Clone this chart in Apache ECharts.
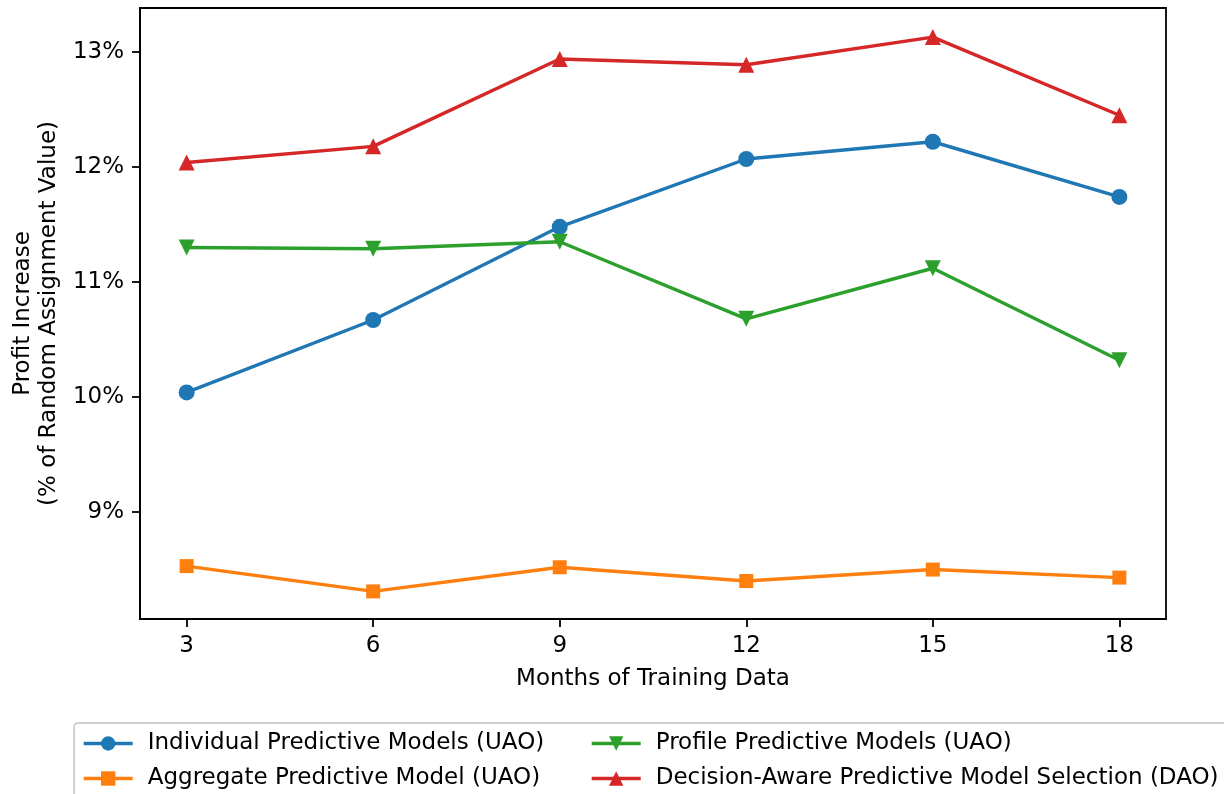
<!DOCTYPE html>
<html>
<head>
<meta charset="utf-8">
<script src="https://cdn.jsdelivr.net/npm/echarts@6/dist/echarts.min.js"></script>
<style>
html,body{margin:0;padding:0;background:#fff;}
#chart{width:1224px;height:794px;}
</style>
</head>
<body>
<div id="chart"></div>
<script>
const months = [3, 6, 9, 12, 15, 18];
const individual = [10.04, 10.67, 11.48, 12.07, 12.22, 11.74];
const aggregate = [8.53, 8.31, 8.52, 8.40, 8.50, 8.43];
const profile = [11.30, 11.29, 11.35, 10.68, 11.12, 10.32];
const decisionAware = [12.04, 12.18, 12.94, 12.89, 13.13, 12.45];
const yTicks = [9, 10, 11, 12, 13];
const xTicks = [3, 6, 9, 12, 15, 18];
const names = [
  'Individual Predictive Models (UAO)',
  'Aggregate Predictive Model (UAO)',
  'Profile Predictive Models (UAO)',
  'Decision-Aware Predictive Model Selection (DAO)'
];
const colors = ['#1f77b4', '#ff7f0e', '#2ca02c', '#d62728'];
const FONT = 'DejaVu Sans';
const FS = 23;

function pairs(arr) { return months.map((m, i) => [m, arr[i]]); }

const triDown = 'path://M0,0 L2,0 L1,2 Z';
const triUp = 'path://M1,0 L2,2 L0,2 Z';

function mkSeries(name, data, color, symbol, size) {
  return {
    name: name, type: 'line', data: pairs(data),
    symbol: symbol, symbolSize: size, showAllSymbol: true,
    lineStyle: { color: color, width: 3.4 },
    itemStyle: { color: color, borderWidth: 0 },
    emphasis: { disabled: true },
    z: 3
  };
}

const chart = echarts.init(document.getElementById('chart'));
const legendText = { fontFamily: FONT, fontSize: FS, color: '#000', lineHeight: 23, padding: [0, 0, 0, 10] };
const legendCommon = {
  orient: 'vertical', top: 727, height: 90, itemWidth: 49, itemHeight: 18, itemGap: 12,
  textStyle: legendText, selectedMode: false,
  lineStyle: { width: 3.4 }
};
chart.setOption({
  animation: false,
  backgroundColor: '#fff',
  grid: { left: 140, right: 58, top: 8, bottom: 175, show: true, borderColor: '#000', borderWidth: 1.8, outerBoundsMode: 'none' },
  xAxis: {
    type: 'value', min: 2.25, max: 18.75,
    name: 'Months of Training Data', nameLocation: 'middle', nameGap: 49,
    nameTextStyle: { fontFamily: FONT, fontSize: FS, color: '#000' },
    axisLine: { show: true, lineStyle: { color: '#000', width: 1.8 } },
    axisTick: { show: true, length: 8, lineStyle: { color: '#000', width: 1.8 }, customValues: xTicks },
    axisLabel: { fontFamily: FONT, fontSize: FS, color: '#000', margin: 16, customValues: xTicks },
    splitLine: { show: false }
  },
  yAxis: {
    type: 'value', min: 8.07, max: 13.383,
    name: 'Profit Increase\n(% of Random Assignment Value)', nameLocation: 'middle', nameGap: 78,
    nameTextStyle: { fontFamily: FONT, fontSize: FS, color: '#000', lineHeight: 26, align: 'center' },
    axisLine: { show: true, lineStyle: { color: '#000', width: 1.8 } },
    axisTick: { show: true, length: 8, lineStyle: { color: '#000', width: 1.8 }, customValues: yTicks },
    axisLabel: { fontFamily: FONT, fontSize: FS, color: '#000', margin: 16, customValues: yTicks, formatter: v => v + '%' },
    splitLine: { show: false }
  },
  legend: [
    Object.assign({ left: 77, data: [names[0], names[1]] }, legendCommon),
    Object.assign({ left: 585, data: [names[2], names[3]] }, legendCommon)
  ],
  graphic: [
    { type: 'rect', z: -10, shape: { x: 74, y: 723, width: 1200, height: 120, r: 4 },
      style: { fill: '#fff', stroke: '#d0d0d0', lineWidth: 2 } }
  ],
  series: [
    mkSeries(names[0], individual, colors[0], 'circle', 16),
    mkSeries(names[1], aggregate, colors[1], 'rect', 14),
    mkSeries(names[2], profile, colors[2], triDown, 16),
    mkSeries(names[3], decisionAware, colors[3], triUp, 16)
  ]
});
</script>
</body>
</html>
